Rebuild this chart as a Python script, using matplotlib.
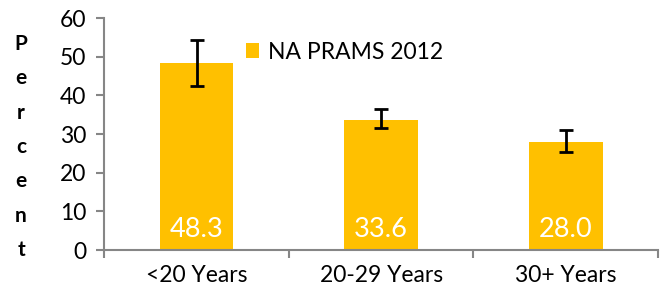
import matplotlib
matplotlib.use("Agg")
from matplotlib import pyplot as plt
import numpy as np

categories = ["<20 Years", "20-29 Years", "30+ Years"]
values = [48.3, 33.6, 28.0]
ci_low = [42.4, 31.5, 25.3]
ci_high = [54.4, 36.4, 31.0]
series_name = "NA PRAMS 2012"

plt.rcParams['font.family'] = ['Lato', 'DejaVu Sans']

fig = plt.figure(figsize=(6.6, 2.97), dpi=100)
ax = fig.add_axes([0.158, 0.158, 0.839, 0.781])

x = np.arange(len(categories))
yerr = [np.array(values) - np.array(ci_low), np.array(ci_high) - np.array(values)]
bars = ax.bar(x, values, width=0.4, color='#FFC000', label=series_name, zorder=2)
ax.errorbar(x, values, yerr=yerr, fmt='none', ecolor='black', elinewidth=2,
            capsize=5, capthick=2, zorder=3)

# value labels inside the bars
for xi, v in zip(x, values):
    ax.text(xi, 2.2, f"{v:.1f}", ha='center', va='bottom', color='white', fontsize=19.5)

ax.set_xlim(-0.5, len(categories) - 0.5)
ax.set_ylim(0, 60)
ax.set_yticks(range(0, 61, 10))
ax.set_xticks(x)
ax.set_xticklabels(categories, fontsize=16.5)
ax.set_xticks(np.arange(-0.5, len(categories)), minor=True)
ax.tick_params(axis='x', which='major', length=0, pad=11)
ax.tick_params(axis='x', which='minor', length=6, width=1.5, color='#868686')
ax.tick_params(axis='y', length=6, width=1.5, color='#868686', labelsize=16.5, pad=7)

for side in ['top', 'right']:
    ax.spines[side].set_visible(False)
for side in ['left', 'bottom']:
    ax.spines[side].set_color('#868686')
    ax.spines[side].set_linewidth(1.5)

fig.text(0.032, 0.505, "P\ne\nr\nc\ne\nn\nt", ha='center', va='center',
         fontsize=15, fontweight='bold', linespacing=1.9)

ax.legend(loc='upper left', bbox_to_anchor=(0.372, 0.86), bbox_transform=fig.transFigure,
          frameon=False, fontsize=16.5, handlelength=0.6, handleheight=0.6,
          handletextpad=0.4, borderpad=0, borderaxespad=0)

fig.savefig("out.png", dpi=100)
